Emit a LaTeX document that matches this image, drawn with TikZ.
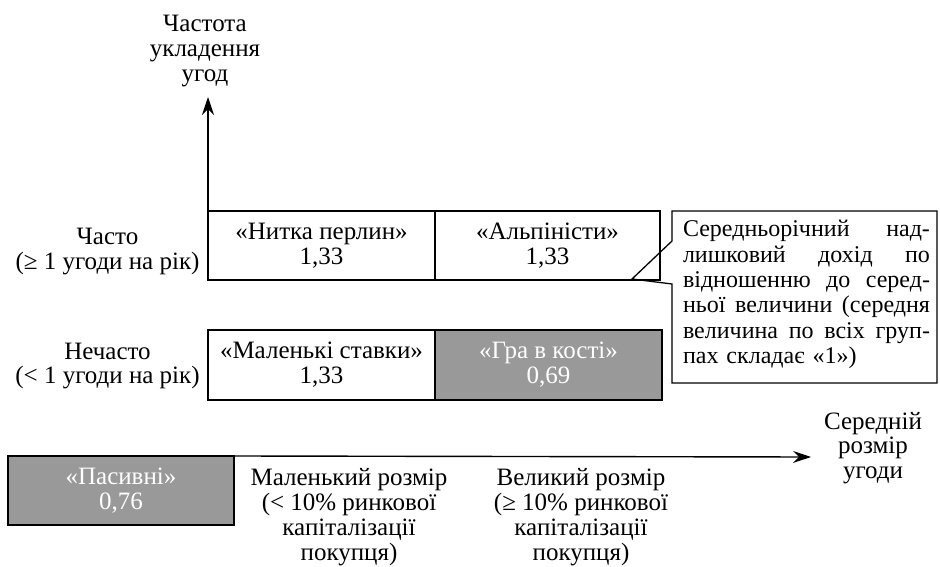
\documentclass[tikz,border=0pt]{standalone}
\usepackage{fontspec}
\setmainfont{Liberation Serif}
\usetikzlibrary{arrows.meta}
\definecolor{boxgray}{HTML}{999999}
\newcommand{\jline}[1]{\makebox[247pt][l]{#1}}
\begin{document}
\begin{tikzpicture}[x=1pt,y=-1pt,
  txt/.style={font=\fontsize{25}{24.8}\selectfont, align=center, inner sep=0pt},
  cell/.style={txt, draw, line width=1.3pt, outer sep=0pt, minimum height=69pt},
  darkcell/.style={cell, fill=boxgray, text=white},
  axis/.style={line width=1.4pt, -{Stealth[length=18pt,width=12pt,inset=6pt]}}]
\useasboundingbox (0,0) rectangle (940,567);
% top row
\node[cell, minimum width=227pt] (nit) at (321.5,245.5) {«Нитка перлин»\\1,33};
\node[cell, minimum width=225pt] (alp) at (547.5,245.5) {«Альпіністи»\\1,33};
% bottom row
\node[cell, minimum width=227pt, minimum height=70pt] (mal) at (321.5,365) {«Маленькі ставки»\\1,33};
\node[darkcell, minimum width=227pt, minimum height=70pt] (gra) at (548.5,365) {«Гра в кості»\\0,69};
% passive
\node[darkcell, minimum width=226pt] (pas) at (121,490.5) {«Пасивні»\\0,76};
% row labels
\node[txt] (often) at (107.5,251.5) {Часто\\(≥ 1 угоди на рік)};
\node[txt] (rare) at (107.5,366) {Нечасто\\(< 1 угоди на рік)};
% axis labels
\node[txt] (ylab) at (205,51) {Частота\\укладення\\угод};
\node[txt] (xlab) at (873,448) {Середній\\розмір\\угоди};
\node[txt] (small) at (349,517) {Маленький розмір\\(< 10\% ринкової\\капіталізації\\покупця)};
\node[txt] (large) at (581,517) {Великий розмір\\(≥ 10\% ринкової\\капіталізації\\покупця)};
% axes
\coordinate (ytip) at (208,97);
\coordinate (xtip) at (811,457);
\draw[axis] (nit.north west) -- (ytip);
\draw[axis] (pas.north east) -- (xtip);
% callout
\node[txt, font=\fontsize{24}{25.3}\selectfont, align=left, text width=247pt] (note) at (806.5,294.5) {%
\jline{Середньорічний\hfill над-}\\
\jline{лишковий\hfill дохід\hfill по}\\
\jline{відношенню\hfill до\hfill серед-}\\
\jline{ньої\hfill величини\hfill (середня}\\
\jline{величина\hfill по\hfill всіх\hfill груп-}\\
пах складає «1»)};
\coordinate (ptip) at (632,279);
\draw[line width=1.3pt, line join=miter]
  (672,241) -- (672,211) -- (937,211) -- (937,383) -- (672,383) -- (672,284)
  -- (ptip) -- cycle;
\end{tikzpicture}
\end{document}
